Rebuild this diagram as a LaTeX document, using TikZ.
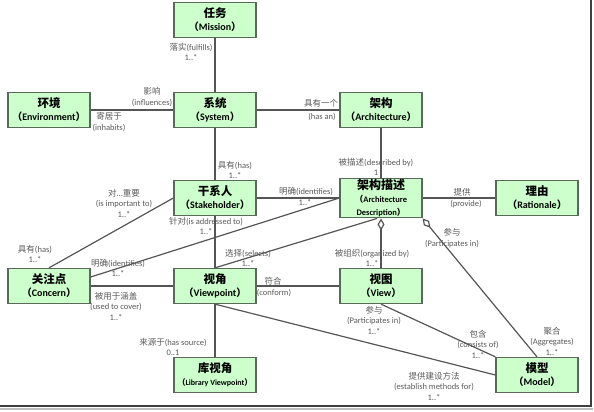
\documentclass[tikz,border=0pt]{standalone}
\usepackage{fontspec}
\setmainfont{Carlito}
\newfontfamily\cjk{Noto Sans CJK SC}
\usetikzlibrary{arrows.meta}
\definecolor{boxfill}{RGB}{204,255,204}
\definecolor{boxline}{RGB}{90,105,90}
\definecolor{linkgray}{RGB}{85,85,85}
\definecolor{lblgray}{RGB}{90,90,90}
\newcommand\zh[1]{{\cjk #1}}
\newcommand\boxtext[2]{{\cjk\fontsize{11.5}{13}\selectfont #1}\\\zh{（}#2\zh{）}}
\tikzset
{
    umlbox/.style = {rectangle, draw=boxline, fill=boxfill, line width=1.3pt, minimum width=82pt, minimum height=35pt, inner sep=1pt, align=center, font=\bfseries\fontsize{10}{13}\selectfont},
    lbl/.style    = {text=lblgray, align=center, inner sep=0pt, font=\fontsize{8.5}{10.5}\selectfont},
    assoc/.style  = {draw=linkgray, line width=1.2pt},
    aggr/.style   = {assoc, {Diamond[open, fill=white, length=12pt, width=7pt]}-}
}
\begin{document}
\begin{tikzpicture}[x=1pt, y=-1pt]
    \useasboundingbox (0,0) rectangle (594,412);
    \node [umlbox] (mis)  at (215,20)  {\boxtext{任务}{Mission}};
    \node [umlbox] (env)  at (49,110)  {\boxtext{环境}{Environment}};
    \node [umlbox] (sys)  at (215,110) {\boxtext{系统}{System}};
    \node [umlbox] (arch) at (381,110) {\boxtext{架构}{Architecture}};
    \node [umlbox] (stk)  at (215,198) {\boxtext{干系人}{Stakeholder}};
    \node [umlbox] (ad)   at (381,198) {{\cjk\fontsize{12}{12}\selectfont 架构描述}\\{\fontsize{8.5}{10}\selectfont\zh{（}Architecture}\\{\fontsize{8.5}{10}\selectfont Description\zh{）}}};
    \node [umlbox] (rat)  at (537,198) {\boxtext{理由}{Rationale}};
    \node [umlbox] (con)  at (49,286)  {\boxtext{关注点}{Concern}};
    \node [umlbox] (vp)   at (215,286) {\boxtext{视角}{Viewpoint}};
    \node [umlbox] (view) at (381,286) {\boxtext{视图}{View}};
    \node [umlbox] (lib)  at (215,375) {{\cjk\fontsize{11.5}{13}\selectfont 库视角}\\{\fontsize{8}{10}\selectfont\zh{（}Library Viewpoint\zh{）}}};
    \node [umlbox] (mod)  at (537,375) {\boxtext{模型}{Model}};

    \draw [assoc] (mis) -- (sys);
    \draw [assoc] (env) -- (sys);
    \draw [assoc] (sys) -- (arch);
    \draw [assoc] (sys) -- (stk);
    \draw [assoc] (arch) -- (ad);
    \draw [assoc] (stk) -- (ad);
    \draw [assoc] (stk.west) -- (con.north);
    \draw [assoc] (stk) -- (vp);
    \draw [assoc] (ad.west) -- ([yshift=9pt]con.east);
    \draw [assoc] ([xshift=-4pt]ad.south) -- (vp.north);
    \draw [aggr] (ad.south) -- (view.north);
    \draw [aggr] (ad.south east) -- (mod.north);
    \draw [assoc] (ad) -- (rat);
    \draw [assoc] (con) -- (vp);
    \draw [assoc] (vp) -- (view);
    \draw [assoc] (vp) -- (lib);
    \draw [assoc] (vp.south) -- (mod.west);
    \draw [assoc] (view.south) -- (mod.north west);

    \node [lbl] (lFul)     at (191,52)  {\zh{落实}(fulfills)\\1..*};
    \node [lbl] (lInf)     at (152,97)  {\zh{影响}\\(influences)};
    \node [lbl] (lInh)     at (109,122) {\zh{寄居于}\\(inhabits)};
    \node [lbl] (lHasAnZh) at (321,103) {\zh{具有一个}};
    \node [lbl] (lHasAn)   at (322,117) {(has an)};
    \node [lbl] (lHasStk)  at (235,170) {\zh{具有}(has)\\1..*};
    \node [lbl] (lDesc)    at (376,167) {\zh{被描述}(described by)\\1};
    \node [lbl] (lIdStkZh) at (306,192) {\zh{明确}(identifies)};
    \node [lbl] (lIdStk)   at (305,203) {1..*};
    \node [lbl] (lImp)     at (124,203) {\zh{对}...\zh{重要}\\(is important to)\\1..*};
    \node [lbl] (lHasCon)  at (35,254)  {\zh{具有}(has)\\1..*};
    \node [lbl] (lAddr)    at (206,226) {\zh{针对}(is addressed to)\\1..*};
    \node [lbl] (lIdCon)   at (118,268) {\zh{明确}(identifies)\\1..*};
    \node [lbl] (lSel)     at (248,258) {\zh{选择}(selects)\\1..*};
    \node [lbl] (lOrg)     at (372,258) {\zh{被组织}(organized by)\\1..*};
    \node [lbl] (lPartAd)  at (452,238) {\zh{参与}\\(Participates in)};
    \node [lbl] (lProvZh)  at (462,192) {\zh{提供}};
    \node [lbl] (lProv)    at (466,204) {(provide)};
    \node [lbl] (lCover)   at (116,306) {\zh{被用于涵盖}\\(used to cover)\\1..*};
    \node [lbl] (lConfZh)  at (273,281) {\zh{符合}};
    \node [lbl] (lConf)    at (274,293) {(conform)};
    \node [lbl] (lSrc)     at (173,347) {\zh{来源于}(has source)\\0..1};
    \node [lbl] (lPartVw)  at (374,320) {\zh{参与}\\(Participates in)\\1..*};
    \node [lbl] (lCons)    at (478,344) {\zh{包含}\\(consists of)\\1..*};
    \node [lbl] (lAgg)     at (552,341) {\zh{聚合}\\(Aggregates)\\1..*};
    \node [lbl] (lEst)     at (434,386) {\zh{提供建设方法}\\(establish methods for)\\1..*};

    \draw [line width=2pt, draw=black!75] (591,0) -- (591,406) -- (0,406);
    \draw [line width=2pt, draw=black!25] (0,409) -- (593,409);
\end{tikzpicture}
\end{document}
